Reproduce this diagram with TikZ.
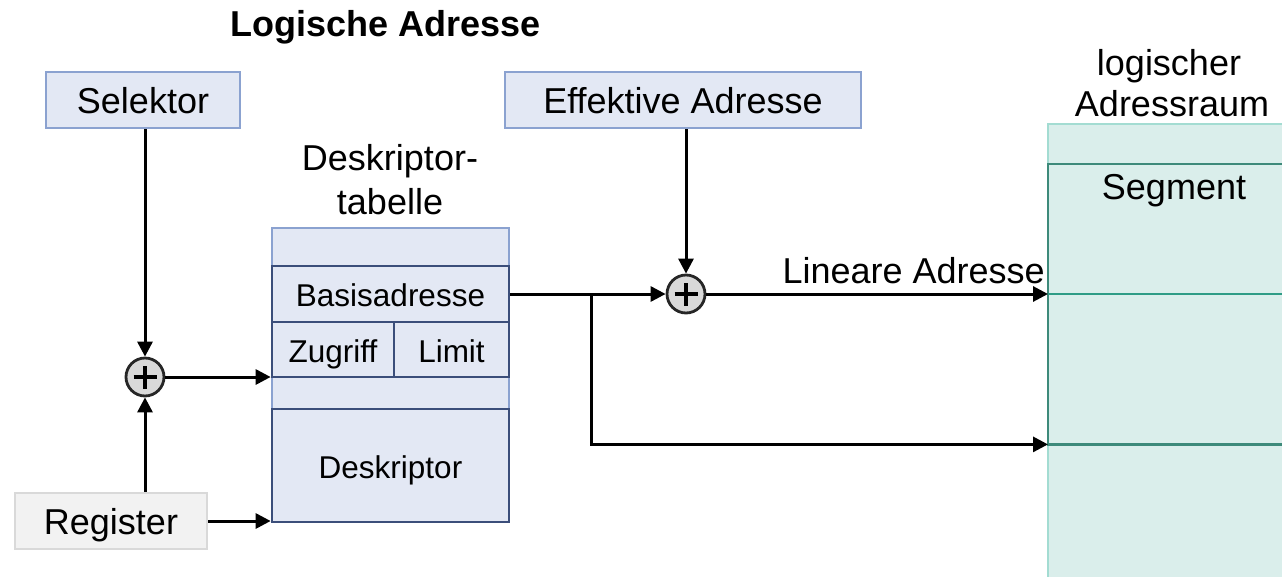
\documentclass[tikz,border=0pt]{standalone}
\usepackage{fontspec}
\setmainfont{Liberation Sans}
\usetikzlibrary{arrows.meta}
\definecolor{bluefill}{HTML}{E3E8F4}
\definecolor{blueborder}{HTML}{8BA2D0}
\definecolor{navy}{HTML}{3B4E7A}
\definecolor{grayfill}{HTML}{F2F2F2}
\definecolor{grayborder}{HTML}{D9D9D9}
\definecolor{tealfill}{HTML}{DAEEEB}
\definecolor{teallight}{HTML}{A3DCD2}
\definecolor{tealdark}{HTML}{3D8A7A}
\definecolor{tealmid}{HTML}{2E9C86}
\definecolor{plusfill}{HTML}{D9D9D9}
\newcommand{\bigtxt}{\fontsize{36}{42}\selectfont}
\newcommand{\smalltxt}{\fontsize{31.5}{38}\selectfont}
\tikzset{
  inbox/.style={draw=blueborder, fill=bluefill, line width=2.7pt, inner sep=0, font=\bigtxt, text height=26pt, text depth=0pt},
  regbox/.style={draw=grayborder, fill=grayfill, line width=2.7pt, inner sep=0, font=\bigtxt, text height=27pt, text depth=0pt},
  cell/.style={draw=navy, fill=bluefill, line width=2.7pt, inner sep=0, font=\smalltxt, text height=25pt, text depth=0pt},
  plusnode/.style={circle, draw=black!85, fill=plusfill, line width=2.8pt, minimum size=38pt, inner sep=0,
    path picture={\draw[line width=4pt,black] ([xshift=-11.5pt]path picture bounding box.center) -- ([xshift=11.5pt]path picture bounding box.center)
      ([yshift=-11.5pt]path picture bounding box.center) -- ([yshift=11.5pt]path picture bounding box.center);}},
  conn/.style={line width=3pt, -{Triangle[length=15pt,width=15pt]}},
  txt/.style={inner sep=0, font=\bigtxt, align=center},
}
\begin{document}
\begin{tikzpicture}[x=1pt,y=-1pt]
\useasboundingbox (0,0) rectangle (1282,576);

% title
\node[inner sep=0, font=\bigtxt\bfseries, anchor=base] (title) at (386,36) {Logische Adresse};

% input boxes
\node[inbox, minimum width=194pt, minimum height=56pt] (sel) at (143,100) {Selektor};
\node[inbox, minimum width=356pt, minimum height=56pt] (eff) at (683,100) {Effektive Adresse};
\node[regbox, minimum width=192pt, minimum height=56pt] (reg) at (111,521) {Register};

% descriptor table
\node[txt, anchor=base] (dt1) at (390,170) {Deskriptor-};
\node[txt, anchor=base] (dt2) at (390,214) {tabelle};
\node[draw=blueborder, fill=bluefill, line width=2.7pt, minimum width=237pt, minimum height=294pt, inner sep=0] (tab) at (390.5,375) {};
\node[cell, minimum width=237pt, minimum height=56pt] (basis) at (390.5,294) {Basisadresse};
\node[cell, minimum width=122pt, minimum height=55pt] (zug) at (333,349.5) {Zugriff};
\node[cell, minimum width=115pt, minimum height=55pt] (lim) at (451.5,349.5) {Limit};
\node[cell, minimum width=237pt, minimum height=113pt] (desk) at (390.5,465.5) {Deskriptor};

% logical address space
\node[fill=tealfill, minimum width=234pt, minimum height=453pt, inner sep=0, anchor=north west] (space) at (1048,124) {};
\draw[teallight, line width=2.5pt] (space.south west) -- (space.north west) -- (space.north east);
\node[minimum width=234pt, minimum height=280pt, inner sep=0, anchor=north west] (seg) at (1048,164) {};
\draw[tealdark, line width=2.7pt] (seg.north east) -- (seg.north west) -- (seg.south west) -- (seg.south east);
\coordinate (mid) at (1048,294);
\draw[tealmid, line width=2pt] (mid) -- (mid -| seg.east);
\node[txt, anchor=base] (segl) at (1174,199) {Segment};
\node[txt, anchor=base] (la1) at (1169,75) {logischer};
\node[txt, anchor=base] (la2) at (1172,116) {Adressraum};

% adders
\node[plusnode] (p1) at (145,377) {};
\node[plusnode] (p2) at (686,294) {};

% connectors
\draw[conn] (p1.north |- sel.south) -- (p1.north);
\draw[conn] (p1.south |- reg.north) -- (p1.south);
\draw[conn] (p1.east) -- (p1.east -| tab.west);
\draw[conn] (reg.east) -- (reg.east -| tab.west);
\draw[conn] (basis.east) -- (p2.west);
\coordinate (br) at (591,294);
\draw[conn] (br) |- (seg.south west);
\draw[conn] (p2.north |- eff.south) -- (p2.north);
\draw[conn] (p2.east) -- (p2.east -| seg.west);
\node[txt, anchor=base east] (lin) at (1045,283) {Lineare Adresse};
\end{tikzpicture}
\end{document}
